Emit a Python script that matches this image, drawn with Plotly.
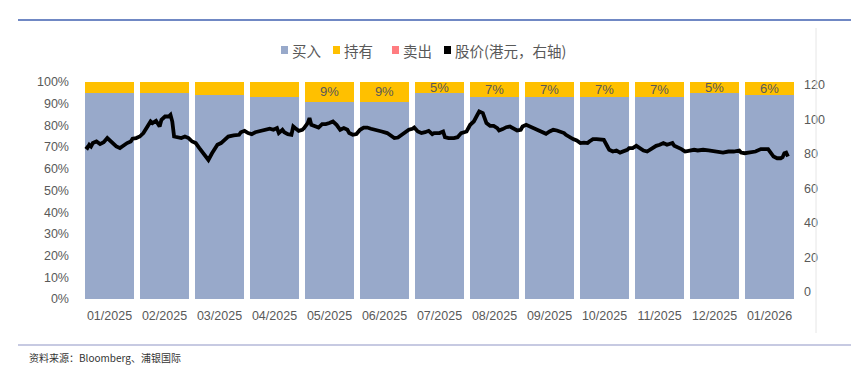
import plotly.graph_objects as go

months = ['01/2025', '02/2025', '03/2025', '04/2025', '05/2025', '06/2025', '07/2025',
          '08/2025', '09/2025', '10/2025', '11/2025', '12/2025', '01/2026']
buy = [95, 95, 94, 93, 91, 91, 95, 93, 93, 93, 93, 95, 94]
hold = [5, 5, 6, 7, 9, 9, 5, 7, 7, 7, 7, 5, 6]
sell = [0] * 13
hold_labels = ['', '', '', '', '9%', '9%', '5%', '7%', '7%', '7%', '7%', '5%', '6%']

price_dates = [
    '2025-01-03', '2025-01-04', '2025-01-05', '2025-01-06', '2025-01-07', '2025-01-09', '2025-01-11',
    '2025-01-13', '2025-01-15', '2025-01-17', '2025-01-18', '2025-01-20', '2025-01-22', '2025-01-24',
    '2025-01-26', '2025-01-28', '2025-01-29', '2025-01-31', '2025-02-02', '2025-02-04', '2025-02-06',
    '2025-02-08', '2025-02-09', '2025-02-11', '2025-02-13', '2025-02-14', '2025-02-16', '2025-02-18',
    '2025-02-19', '2025-02-20', '2025-02-21', '2025-02-23', '2025-02-25', '2025-02-27', '2025-03-01',
    '2025-03-03', '2025-03-05', '2025-03-07', '2025-03-09', '2025-03-12', '2025-03-14', '2025-03-16',
    '2025-03-17', '2025-03-19', '2025-03-21', '2025-03-23', '2025-03-26', '2025-03-29', '2025-03-30',
    '2025-04-01', '2025-04-03', '2025-04-05', '2025-04-07', '2025-04-10', '2025-04-11', '2025-04-13',
    '2025-04-15', '2025-04-17', '2025-04-19', '2025-04-20', '2025-04-22', '2025-04-23', '2025-04-25',
    '2025-04-27', '2025-04-28', '2025-04-29', '2025-05-01', '2025-05-03', '2025-05-04', '2025-05-06',
    '2025-05-07', '2025-05-08', '2025-05-10', '2025-05-12', '2025-05-14', '2025-05-16', '2025-05-18',
    '2025-05-20', '2025-05-22', '2025-05-24', '2025-05-26', '2025-05-28', '2025-05-29', '2025-05-31',
    '2025-06-02', '2025-06-04', '2025-06-06', '2025-06-08', '2025-06-10', '2025-06-13', '2025-06-16',
    '2025-06-19', '2025-06-22', '2025-06-23', '2025-06-25', '2025-06-27', '2025-06-29', '2025-07-01',
    '2025-07-03', '2025-07-04', '2025-07-06', '2025-07-08', '2025-07-10', '2025-07-12', '2025-07-14',
    '2025-07-15', '2025-07-18', '2025-07-20', '2025-07-21', '2025-07-23', '2025-07-26', '2025-07-28',
    '2025-07-30', '2025-07-31', '2025-08-02', '2025-08-04', '2025-08-06', '2025-08-08', '2025-08-09',
    '2025-08-11', '2025-08-13', '2025-08-15', '2025-08-17', '2025-08-19', '2025-08-20', '2025-08-22',
    '2025-08-24', '2025-08-26', '2025-08-28', '2025-08-30', '2025-09-01', '2025-09-02', '2025-09-04',
    '2025-09-06', '2025-09-08', '2025-09-10', '2025-09-12', '2025-09-13', '2025-09-15', '2025-09-17',
    '2025-09-19', '2025-09-21', '2025-09-23', '2025-09-25', '2025-09-26', '2025-09-28', '2025-09-30',
    '2025-10-02', '2025-10-04', '2025-10-06', '2025-10-08', '2025-10-09', '2025-10-11', '2025-10-13',
    '2025-10-17', '2025-10-19', '2025-10-20', '2025-10-22', '2025-10-24', '2025-10-26', '2025-10-28',
    '2025-10-30', '2025-10-31', '2025-11-02', '2025-11-04', '2025-11-06', '2025-11-08', '2025-11-10',
    '2025-11-12', '2025-11-13', '2025-11-15', '2025-11-17', '2025-11-19', '2025-11-21', '2025-11-24',
    '2025-11-25', '2025-11-27', '2025-11-29', '2025-12-01', '2025-12-03', '2025-12-06', '2025-12-08',
    '2025-12-11', '2025-12-14', '2025-12-17', '2025-12-19', '2025-12-22', '2025-12-25', '2025-12-28',
    '2025-12-31', '2026-01-01', '2026-01-03', '2026-01-06', '2026-01-09', '2026-01-12', '2026-01-14',
    '2026-01-16', '2026-01-17', '2026-01-19', '2026-01-21', '2026-01-23', '2026-01-24', '2026-01-25',
    '2026-01-26', '2026-01-27',
]
price_values = [
    84.2, 83.4, 85.2, 84.2, 86.2, 87.1, 85.6,
    86.7, 89.1, 87.1, 85.6, 84.2, 83.3, 84.8,
    86.2, 87.1, 88.7, 89.1, 90.0, 92.0, 95.8,
    98.7, 97.8, 99.1, 95.8, 99.7, 101.6, 101.6,
    102.6, 98.7, 90.0, 89.6, 89.1, 90.0, 89.1,
    87.1, 86.2, 83.3, 80.3, 76.4, 80.3, 83.3,
    85.2, 86.2, 88.1, 90.0, 90.6, 91.0, 92.5,
    93.3, 92.0, 91.4, 92.5, 93.3, 93.3, 93.9,
    94.5, 93.9, 94.9, 92.0, 93.9, 92.5, 91.4,
    91.0, 95.8, 94.9, 93.3, 93.9, 94.9, 97.8,
    100.7, 96.8, 95.8, 95.2, 97.2, 97.2, 97.8,
    98.7, 96.8, 93.9, 94.9, 93.9, 92.0, 91.0,
    91.4, 93.9, 95.2, 95.2, 94.5, 93.9, 92.9,
    92.0, 90.0, 89.1, 89.4, 91.0, 92.9, 93.9,
    94.5, 95.2, 92.9, 92.0, 92.5, 93.3, 91.4,
    92.0, 92.0, 92.9, 89.6, 89.1, 89.1, 89.6,
    92.0, 92.3, 92.9, 96.8, 98.7, 102.6, 104.5,
    103.6, 97.8, 96.2, 96.2, 94.9, 93.5, 94.3,
    95.4, 95.8, 94.9, 93.5, 93.9, 95.8, 96.8,
    95.8, 95.4, 93.9, 92.9, 92.9, 91.6, 92.9,
    93.9, 93.5, 92.9, 92.0, 91.0, 89.6, 88.5,
    87.7, 86.2, 86.5, 86.2, 87.1, 88.5, 88.5,
    88.1, 84.2, 82.3, 81.3, 81.9, 80.7, 81.3,
    82.3, 83.3, 83.3, 84.6, 83.3, 81.9, 81.3,
    82.7, 83.8, 84.6, 85.2, 86.2, 85.2, 86.2,
    84.6, 83.8, 82.7, 81.3, 81.9, 82.3, 81.9,
    82.3, 81.9, 81.3, 81.3, 80.7, 81.3, 81.3,
    81.9, 80.7, 80.3, 80.7, 81.3, 82.7, 82.7,
    82.7, 81.3, 78.4, 77.4, 77.4, 78.0, 80.3,
    80.7, 78.4,
]
right_ticks = [0, 20, 40, 60, 80, 100, 120]
legend_names = ['买入', '持有', '卖出', '股价(港元，右轴)']

BUY = '#98A9CA'
HOLD = '#FFC000'
SELL = '#FF7C80'
GRAY = '#595959'
NUMFONT = 'Liberation Sans'
CJK = 'Noto Sans CJK SC'
legend_colors = [BUY, HOLD, SELL, 'black']

# page body has an 8px margin: figure occupies (8,8)-(859,367) of the window
OFF = 8
W, H = 859 - OFF, 367 - OFF
def px(x):
    return (x - OFF) / W
def py(y):
    return 1 - (y - OFF) / H

fig = go.Figure()
fig.add_bar(x=months, y=buy, name=legend_names[0], marker=dict(color=BUY, line=dict(width=0)))
fig.add_bar(x=months, y=hold, name=legend_names[1], marker=dict(color=HOLD, line=dict(width=0)),
            text=hold_labels, textposition='inside', insidetextanchor='middle',
            textfont=dict(size=13, color=GRAY, family=NUMFONT), constraintext='none')
fig.add_bar(x=months, y=sell, name=legend_names[2], marker=dict(color=SELL, line=dict(width=0)))
fig.add_scatter(x=price_dates, y=price_values, xaxis='x2', yaxis='y2', mode='lines',
                line=dict(color='black', width=3.8), name=legend_names[3])

legend_sq_x = [281, 333, 392, 444]
shapes = [
    dict(type='line', xref='paper', yref='paper', x0=px(18), x1=1, y0=py(20), y1=py(20),
         line=dict(color='#4060B0', width=1.5)),
    dict(type='line', xref='paper', yref='paper', x0=px(18), x1=1, y0=py(345), y1=py(345),
         line=dict(color='#B5B9D9', width=1.5)),
    dict(type='line', xref='paper', yref='paper', x0=px(816), x1=px(816), y0=py(28), y1=py(333),
         line=dict(color='#E6E6E6', width=1)),
]
annotations = [
    dict(text='资料来源：Bloomberg、浦银国际', xref='paper', yref='paper', x=px(27), y=py(357),
         xanchor='left', yanchor='middle', showarrow=False,
         font=dict(size=10, color='#333333', family=CJK)),
]
for sx, nm, col in zip(legend_sq_x, legend_names, legend_colors):
    shapes.append(dict(type='rect', xref='paper', yref='paper', x0=px(sx), x1=px(sx + 7),
                       y0=py(54), y1=py(46), fillcolor=col, line=dict(width=0)))
    annotations.append(dict(text=nm, xref='paper', yref='paper', x=px(sx + 9), y=py(50),
                            xanchor='left', yanchor='middle', showarrow=False,
                            font=dict(size=14.5, color=GRAY, family=CJK)))

fig.update_layout(
    width=W, height=H,
    margin=dict(l=0, r=0, t=0, b=0),
    paper_bgcolor='white', plot_bgcolor='white',
    barmode='stack', bargap=0.11,
    uniformtext=dict(minsize=13, mode='show'),
    showlegend=False,
    xaxis=dict(domain=[px(82), px(797)], type='category', showgrid=False, showline=False,
               zeroline=False, ticks='', automargin=False, ticklabelstandoff=7,
               tickfont=dict(size=12.5, color=GRAY, family=NUMFONT)),
    xaxis2=dict(overlaying='x', type='date', range=['2025-01-01', '2026-02-01'], visible=False,
                automargin=False),
    yaxis=dict(domain=[py(299), py(82)], range=[0, 100], dtick=10, ticksuffix='%',
               showgrid=False, zeroline=False, showline=False, ticks='', automargin=False,
               tickfont=dict(size=12.5, color=GRAY, family=NUMFONT), ticklabelstandoff=12),
    yaxis2=dict(overlaying='y', side='right', range=[-4.2, 121.6], tickvals=right_ticks,
                showgrid=False, zeroline=False, showline=False, ticks='', automargin=False,
                tickfont=dict(size=12.5, color=GRAY, family=NUMFONT), ticklabelstandoff=6),
    shapes=shapes,
    annotations=annotations,
)

fig.write_html('out.html')
